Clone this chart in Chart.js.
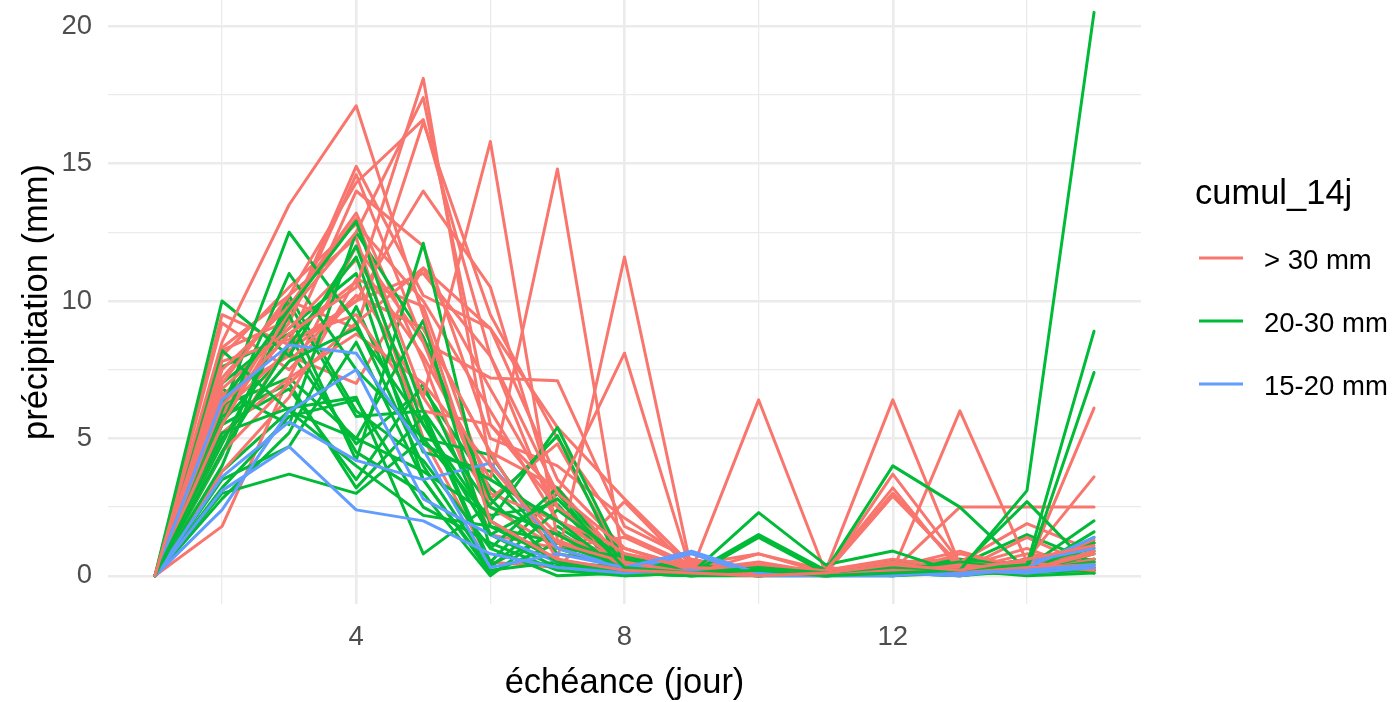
<!DOCTYPE html>
<html>
<head>
<meta charset="utf-8">
<script src="https://cdn.jsdelivr.net/npm/chart.js@4/dist/chart.umd.min.js"></script>
<style>
  html, body { margin: 0; padding: 0; background: #ffffff; overflow: hidden; }
  canvas { display: block; }
</style>
</head>
<body>
<canvas id="c" width="1396" height="702"></canvas>
<script>
// ---- data ----
const days = [1, 2, 3, 4, 5, 6, 7, 8, 9, 10, 11, 12, 13, 14, 15];
const categories = ['> 30 mm', '20-30 mm', '15-20 mm'];
const categoryColors = ['#F8766D', '#00BA38', '#619CFF'];
const legendTitle = 'cumul_14j';
const xTitle = 'échéance (jour)';
const yTitle = 'précipitation (mm)';
const xGridTicks = [2, 4, 6, 8, 10, 12, 14];
const xLabelTicks = [4, 8, 12];
const yGridTicks = [0, 2.5, 5, 7.5, 10, 12.5, 15, 17.5, 20];
const yLabelTicks = [0, 5, 10, 15, 20];

// members with 14-day cumul > 30 mm
const over30 = [
  [0, 8.5, 13.5, 17.1, 9.5, 2.0, 0.6, 0.2, 0.1, 0.0, 0.1, 0.4, 0.2, 0.6, 1.1],
  [0, 6.2, 8.8, 10.5, 18.1, 4.0, 1.2, 0.5, 0.1, 0.1, 0.0, 0.2, 0.1, 0.3, 0.4],
  [0, 5.5, 9.6, 12.5, 17.4, 5.5, 2.5, 0.8, 0.3, 0.2, 0.1, 0.1, 0.4, 0.2, 0.9],
  [0, 7.0, 10.2, 14.3, 16.6, 8.0, 3.0, 1.0, 0.2, 0.1, 0.2, 3.0, 0.3, 0.5, 0.2],
  [0, 7.5, 9.8, 13.0, 6.5, 15.8, 1.3, 0.4, 0.1, 0.1, 0.2, 0.1, 0.3, 0.2, 0.8],
  [0, 6.8, 9.0, 11.5, 8.0, 3.5, 14.8, 0.3, 0.1, 0.2, 0.0, 0.3, 0.2, 0.1, 0.6],
  [0, 5.0, 7.8, 10.2, 9.0, 4.5, 0.6, 11.6, 0.2, 0.1, 0.1, 0.2, 0.0, 0.4, 0.3],
  [0, 7.8, 8.6, 9.5, 6.0, 5.5, 3.0, 8.1, 0.1, 0.0, 0.2, 0.5, 0.1, 0.2, 1.3],
  [0, 6.5, 9.2, 14.6, 8.5, 2.5, 1.0, 0.3, 0.2, 6.4, 0.1, 0.3, 0.2, 0.4, 0.2],
  [0, 8.0, 10.5, 12.8, 10.0, 6.0, 2.0, 0.5, 0.1, 0.3, 0.2, 6.4, 0.4, 0.2, 0.5],
  [0, 4.5, 7.0, 9.2, 11.2, 9.0, 3.5, 1.0, 0.3, 0.1, 0.0, 0.2, 6.0, 0.5, 0.3],
  [0, 6.0, 8.2, 10.0, 14.0, 10.5, 2.5, 0.5, 0.2, 0.1, 0.0, 0.3, 0.1, 0.2, 0.4],
  [0, 5.2, 7.2, 8.8, 7.0, 4.0, 1.5, 0.6, 0.1, 0.2, 0.1, 2.9, 0.4, 0.3, 6.1],
  [0, 3.8, 6.5, 10.8, 9.8, 3.0, 2.0, 1.0, 0.3, 0.1, 0.2, 3.2, 0.2, 0.6, 3.6],
  [0, 4.5, 8.5, 14.0, 12.0, 5.0, 4.0, 2.1, 0.5, 0.3, 0.1, 0.2, 2.5, 2.5, 2.5],
  [0, 8.2, 9.3, 14.9, 10.2, 9.0, 5.4, 2.8, 0.4, 0.8, 0.1, 3.7, 0.5, 1.9, 0.9],
  [0, 1.8, 7.2, 12.0, 8.5, 7.2, 7.1, 1.8, 0.6, 0.2, 0.3, 0.1, 0.8, 0.3, 0.2],
  [0, 9.2, 7.5, 10.2, 9.0, 4.5, 3.2, 0.5, 0.2, 0.1, 0.2, 0.6, 0.2, 1.4, 0.3],
  [0, 9.5, 8.4, 10.0, 11.0, 8.0, 2.0, 0.8, 0.3, 0.4, 0.1, 0.3, 0.9, 0.2, 1.2],
  [0, 7.2, 10.0, 9.0, 16.5, 9.5, 5.0, 1.5, 0.4, 0.2, 0.1, 3.0, 0.3, 1.0, 0.1],
  [0, 6.0, 8.8, 10.7, 6.5, 2.8, 4.8, 0.5, 0.2, 0.5, 0.1, 0.5, 0.2, 0.8, 0.5],
  [0, 5.8, 9.8, 13.2, 7.8, 1.5, 1.0, 1.4, 0.3, 0.1, 0.2, 0.4, 0.3, 0.3, 0.2],
  [0, 8.3, 10.2, 12.3, 5.0, 0.5, 0.3, 2.7, 0.2, 0.2, 0.1, 0.2, 0.1, 0.6, 0.8],
  [0, 6.6, 8.0, 7.0, 11.2, 6.8, 2.5, 0.4, 0.1, 0.8, 0.2, 0.5, 0.6, 0.4, 0.6]
];

// members with 14-day cumul 20-30 mm
const from20to30 = [
  [0, 5.0, 7.8, 9.0, 5.5, 1.5, 2.8, 0.3, 0.1, 0.2, 0.0, 0.1, 0.2, 3.1, 20.5],
  [0, 6.3, 9.7, 12.9, 6.0, 2.5, 1.5, 0.2, 0.1, 0.3, 0.1, 0.3, 0.2, 0.4, 8.9],
  [0, 4.5, 8.4, 11.6, 4.8, 3.5, 2.0, 0.1, 0.0, 0.1, 0.0, 0.2, 0.5, 0.2, 7.4],
  [0, 10.0, 8.0, 12.0, 5.5, 2.0, 0.5, 0.1, 0.2, 0.0, 0.1, 0.3, 0.1, 0.2, 0.5],
  [0, 8.2, 6.0, 5.0, 9.3, 1.0, 3.2, 0.2, 0.1, 1.5, 0.2, 4.0, 2.5, 0.2, 1.2],
  [0, 6.0, 12.5, 9.2, 4.0, 0.3, 2.4, 0.6, 0.1, 2.3, 0.4, 0.9, 0.1, 0.5, 0.3],
  [0, 4.8, 9.5, 4.2, 12.1, 1.8, 1.2, 0.3, 0.2, 0.1, 0.0, 0.1, 0.3, 2.7, 0.2],
  [0, 5.5, 11.0, 7.5, 5.0, 2.0, 5.4, 0.5, 0.1, 0.2, 0.1, 0.2, 0.1, 0.3, 2.0],
  [0, 3.0, 3.7, 3.0, 5.0, 4.4, 1.0, 0.7, 0.2, 0.1, 0.0, 0.2, 0.3, 0.1, 1.6],
  [0, 5.2, 6.1, 6.5, 0.8, 2.6, 5.1, 0.1, 0.0, 0.0, 0.1, 0.1, 0.2, 0.1, 0.8],
  [0, 3.5, 4.7, 8.5, 3.5, 0.1, 1.2, 0.3, 0.1, 0.2, 0.0, 0.1, 0.4, 0.3, 0.2],
  [0, 6.8, 5.5, 12.5, 8.7, 2.8, 0.4, 0.2, 0.1, 0.0, 0.1, 0.5, 0.1, 0.2, 0.9],
  [0, 4.0, 9.9, 5.8, 6.0, 0.5, 3.0, 0.1, 0.1, 0.1, 0.2, 0.0, 0.2, 0.6, 0.1],
  [0, 3.2, 5.8, 6.4, 2.5, 1.2, 0.2, 0.0, 0.1, 0.0, 0.0, 0.1, 0.0, 0.2, 1.4],
  [0, 7.6, 8.8, 4.5, 3.0, 0.0, 1.8, 0.2, 0.0, 1.4, 0.1, 0.2, 0.3, 0.1, 0.6],
  [0, 5.5, 6.8, 3.5, 7.0, 1.5, 0.3, 0.1, 0.2, 0.1, 0.1, 0.3, 0.1, 0.1, 0.4],
  [0, 2.8, 5.2, 9.8, 4.5, 3.8, 0.8, 0.4, 0.1, 0.2, 0.0, 0.2, 0.6, 0.4, 1.0],
  [0, 6.2, 7.2, 5.0, 3.8, 2.2, 2.6, 0.0, 0.1, 0.0, 0.1, 0.1, 0.0, 0.3, 0.3],
  [0, 4.4, 10.2, 6.0, 4.2, 1.0, 0.0, 0.1, 0.0, 0.1, 0.0, 0.1, 0.2, 0.0, 0.1],
  [0, 5.8, 7.0, 3.2, 5.8, 0.4, 1.6, 0.2, 0.3, 0.0, 0.1, 0.2, 0.4, 1.5, 0.5],
  [0, 3.8, 6.0, 4.0, 2.2, 1.8, 0.6, 0.1, 0.0, 0.1, 0.0, 0.0, 0.1, 0.2, 1.2],
  [0, 7.0, 9.0, 11.0, 3.5, 0.2, 0.5, 0.3, 0.1, 0.0, 0.2, 0.1, 0.1, 0.1, 0.2],
  [0, 5.6, 8.2, 4.8, 6.8, 3.2, 1.0, 0.2, 0.1, 0.1, 0.1, 0.0, 0.3, 0.2, 0.6]
];

// members with 14-day cumul 15-20 mm
const from15to20 = [
  [0, 6.4, 8.4, 8.1, 4.6, 0.3, 0.8, 0.3, 0.9, 0.1, 0.0, 0.1, 0.1, 0.2, 0.4],
  [0, 3.1, 4.7, 2.4, 2.0, 0.8, 0.3, 0.1, 0.2, 0.0, 0.0, 0.1, 0.0, 0.3, 1.4],
  [0, 3.6, 5.6, 4.2, 3.5, 4.1, 1.0, 0.3, 0.1, 0.1, 0.0, 0.0, 0.2, 0.1, 0.3],
  [0, 2.4, 6.0, 7.5, 2.8, 1.5, 0.5, 0.2, 0.8, 0.0, 0.1, 0.2, 0.1, 0.5, 1.0]
];

// ---- build datasets (members interleaved, as in the source plot) ----
const groups = [over30, from20to30, from15to20];
const datasets = [];
const maxMembers = Math.max(...groups.map(g => g.length));
for (let i = 0; i < maxMembers; i++) {
  groups.forEach((g, gi) => {
    if (i < g.length) {
      datasets.push({
        label: categories[gi],
        data: g[i].map((v, k) => ({ x: days[k], y: v })),
        borderColor: categoryColors[gi],
        backgroundColor: categoryColors[gi],
        borderWidth: 3,
        pointRadius: 0,
        fill: false,
        tension: 0,
        borderJoinStyle: 'round',
        borderCapStyle: 'round'
      });
    }
  });
}

const FONT = '"Liberation Sans", Arial, Helvetica, sans-serif';
const GRID = '#EBEBEB';

// custom legend in the ggplot style
const ggLegend = {
  id: 'ggLegend',
  afterDraw(chart) {
    const c = chart.ctx;
    c.save();
    c.fillStyle = '#000000';
    c.textAlign = 'left';
    c.textBaseline = 'middle';
    c.font = '34.5px ' + FONT;
    c.fillText(legendTitle, 1195, 194);
    const ys = [258, 321, 384];
    categories.forEach((cat, i) => {
      c.strokeStyle = categoryColors[i];
      c.lineWidth = 3.2;
      c.lineCap = 'butt';
      c.beginPath();
      c.moveTo(1199, ys[i]);
      c.lineTo(1243, ys[i]);
      c.stroke();
      c.fillStyle = '#000000';
      c.font = '27.5px ' + FONT;
      c.fillText(cat, 1264, ys[i] + 3);
    });
    c.restore();
  }
};

new Chart(document.getElementById('c'), {
  type: 'line',
  data: { datasets },
  plugins: [ggLegend],
  options: {
    responsive: false,
    animation: false,
    events: [],
    layout: { padding: { left: 0, right: 255, top: 0, bottom: 0 } },
    plugins: {
      legend: { display: false },
      tooltip: { enabled: false },
      title: { display: false }
    },
    scales: {
      x: {
        type: 'linear',
        min: 0.3,
        max: 15.7,
        afterBuildTicks: s => { s.ticks = xGridTicks.map(v => ({ value: v })); },
        afterFit: s => { s.height = 98; s.paddingLeft = 0; s.paddingRight = 0; },
        ticks: {
          autoSkip: false,
          maxRotation: 0,
          padding: 16.5,
          color: '#4D4D4D',
          font: { family: FONT, size: 27.5 },
          callback: v => (xLabelTicks.includes(v) ? String(v) : '')
        },
        grid: {
          color: GRID,
          drawTicks: false,
          lineWidth: ctx => (ctx.tick && xLabelTicks.includes(ctx.tick.value) ? 2.6 : 1.3)
        },
        border: { display: false },
        title: {
          display: true,
          text: xTitle,
          color: '#000000',
          font: { family: FONT, size: 34.5, lineHeight: 1.05 },
          padding: { top: 0, bottom: 0 }
        }
      },
      y: {
        type: 'linear',
        min: -1.025,
        max: 20.95,
        afterBuildTicks: s => { s.ticks = yGridTicks.map(v => ({ value: v })); },
        afterFit: s => { s.width = 108; s.paddingTop = 0; s.paddingBottom = 0; },
        ticks: {
          autoSkip: false,
          padding: 16,
          color: '#4D4D4D',
          font: { family: FONT, size: 27.5 },
          callback: v => (yLabelTicks.includes(v) ? String(v) : '')
        },
        grid: {
          color: GRID,
          drawTicks: false,
          lineWidth: ctx => (ctx.tick && yLabelTicks.includes(ctx.tick.value) ? 2.6 : 1.3)
        },
        border: { display: false },
        title: {
          display: true,
          text: yTitle,
          color: '#000000',
          font: { family: FONT, size: 34.5, lineHeight: 1.05 },
          padding: { top: 19, bottom: 0 }
        }
      }
    }
  }
});
</script>
</body>
</html>
